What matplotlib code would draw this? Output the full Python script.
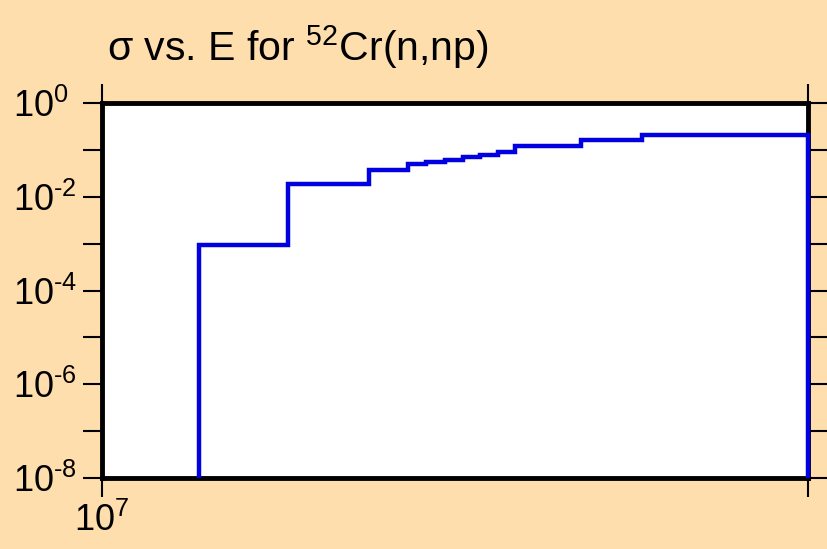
import matplotlib
matplotlib.use("Agg")
import matplotlib.pyplot as plt
import numpy as np

plt.rcParams['font.family'] = ['Liberation Sans', 'DejaVu Sans']
plt.rcParams['mathtext.fontset'] = 'custom'
plt.rcParams['mathtext.rm'] = 'Liberation Sans'

# Data: group-wise cross section (bin edges in eV, values in barns)
edges = [1.1e7, 1.2e7, 1.3e7, 1.35e7, 1.375e7, 1.4e7, 1.425e7, 1.45e7,
         1.475e7, 1.5e7, 1.6e7, 1.7e7, 2.0e7]
xs = [9.3e-4, 0.0187, 0.0372, 0.050, 0.0551, 0.0608, 0.0705, 0.0778,
      0.090, 0.121, 0.162, 0.208]
x_ticks = [1e7, 2e7]
x_labels = [r'$\mathregular{10^{7}}$', '']
y_ticks = [1e-8, 1e-7, 1e-6, 1e-5, 1e-4, 1e-3, 1e-2, 1e-1, 1e0]
y_labels = [r'$\mathregular{10^{\text{-}8}}$', '',
            r'$\mathregular{10^{\text{-}6}}$', '',
            r'$\mathregular{10^{\text{-}4}}$', '',
            r'$\mathregular{10^{\text{-}2}}$', '',
            r'$\mathregular{10^{0}}$']

bg = '#FFDEAD'
fig = plt.figure(figsize=(8.27, 5.49), dpi=100, facecolor=bg)
ax = fig.add_axes([102/827, 71/549, 706/827, 375/549])
ax.set_facecolor('white')

ax.stairs(xs, edges, baseline=1e-8, color='#0000e0', linewidth=3.2,
          zorder=5, clip_on=False)

ax.set_xscale('log')
ax.set_yscale('log')
ax.set_xlim(1e7, 2e7)
ax.set_ylim(1e-8, 1e0)

ax.xaxis.set_minor_locator(matplotlib.ticker.NullLocator())
ax.yaxis.set_minor_locator(matplotlib.ticker.NullLocator())
ax.set_xticks(x_ticks)
ax.set_xticklabels(x_labels)
ax.set_yticks(y_ticks)
ax.set_yticklabels(y_labels, ha='left')

ax.tick_params(axis='both', which='major', direction='out', length=14,
               width=1.5, color='black', labelsize=26,
               top=True, right=True, labeltop=False, labelright=False)
ax.tick_params(axis='y', pad=50)
ax.tick_params(axis='x', pad=4)

for s in ax.spines.values():
    s.set_linewidth(3.5)
    s.set_color('black')
    s.set_zorder(4)

fig.text(107/827, (549-61)/549, r'σ vs. E for $\mathregular{^{52}}$Cr(n,np)',
         fontsize=29.5, ha='left', va='baseline')

fig.savefig('out.png', dpi=100, facecolor=bg)
